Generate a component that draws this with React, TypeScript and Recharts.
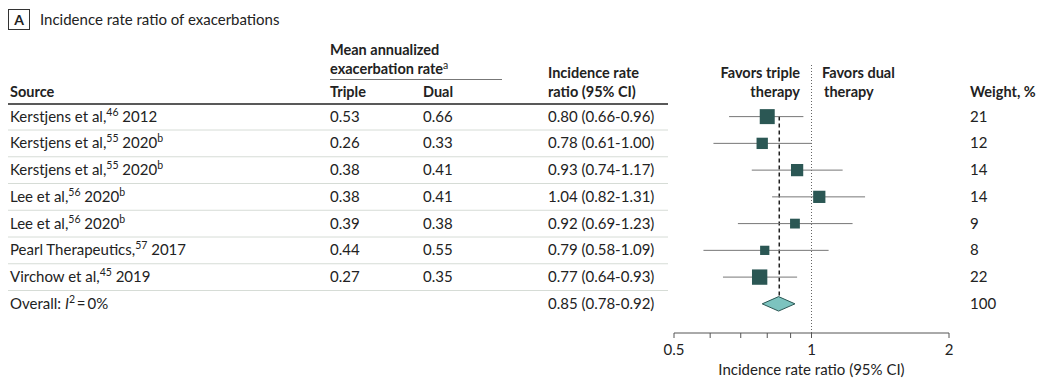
import React from "react";
import {
  ScatterChart,
  Scatter,
  XAxis,
  YAxis,
  ErrorBar,
  ReferenceLine,
  ReferenceArea,
} from "recharts";

// study rows, top to bottom
const studyNames = [
  "Kerstjens et al,",
  "Kerstjens et al,",
  "Kerstjens et al,",
  "Lee et al,",
  "Lee et al,",
  "Pearl Therapeutics,",
  "Virchow et al,",
];
const refNums = ["46", "55", "55", "56", "56", "57", "45"];
const years = ["2012", "2020", "2020", "2020", "2020", "2017", "2019"];
const notes = ["", "b", "b", "b", "b", "", ""];
const tripleRates = ["0.53", "0.26", "0.38", "0.38", "0.39", "0.44", "0.27"];
const dualRates = ["0.66", "0.33", "0.41", "0.41", "0.38", "0.55", "0.35"];
const irr = [0.8, 0.78, 0.93, 1.04, 0.92, 0.79, 0.77];
const ciLow = [0.66, 0.61, 0.74, 0.82, 0.69, 0.58, 0.64];
const ciHigh = [0.96, 1.0, 1.17, 1.31, 1.23, 1.09, 0.93];
const weights = [21, 12, 14, 14, 9, 8, 22];

// pooled estimate
const overallIrr = 0.85;
const overallLow = 0.78;
const overallHigh = 0.92;
const overallWeight = 100;

const xTicks = [0.5, 0.6, 0.7, 0.8, 0.9, 1, 2];
const xTickLabels = [0.5, 1, 2];

const OVERALL_ROW = studyNames.length;
const rowIdx = [...studyNames.map((_, i) => i), OVERALL_ROW];

const FONT = "Lato, 'Noto Sans', sans-serif";
const TEXT = "#222";
const SQUARE = "#2b5754";
const DIAMOND = "#7cc3bf";
const ROW_HALF = 13.4;
const FS = 15;
const HEAD_FS = 14.5;

const points = irr.map((v, i) => ({
  x: v,
  y: i,
  err: [v - ciLow[i], ciHigh[i] - v],
  w: weights[i],
}));

const fmt = (v: number) => v.toFixed(2);
const ciText = (v: number, lo: number, hi: number) =>
  `${fmt(v)} (${fmt(lo)}-${fmt(hi)})`;

const Sup = ({ children }: { children: React.ReactNode }) => (
  <tspan fontSize={10.5} dy={-6}>
    {children}
  </tspan>
);

// each y tick draws a whole table row on the left and the weight on the right
const RowTick = (props: any) => {
  const { y, payload } = props;
  const i = payload.value as number;
  const base = y + 5;
  const isOverall = i === OVERALL_ROW;
  return (
    <g fontFamily={FONT} fontSize={FS} fill={TEXT}>
      {isOverall ? (
        <text x={10} y={base}>
          Overall:{" "}
          <tspan fontStyle="italic">I</tspan>
          <Sup>2</Sup>
          <tspan dy={6}>{"\u2009=\u20090%"}</tspan>
        </text>
      ) : (
        <text x={10} y={base}>
          {studyNames[i]}
          <Sup>{refNums[i]}</Sup>
          <tspan dy={6}> {years[i]}</tspan>
          {notes[i] ? <Sup>{notes[i]}</Sup> : null}
        </text>
      )}
      {!isOverall && (
        <>
          <text x={330} y={base}>
            {tripleRates[i]}
          </text>
          <text x={423} y={base}>
            {dualRates[i]}
          </text>
        </>
      )}
      <text x={548} y={base}>
        {isOverall
          ? ciText(overallIrr, overallLow, overallHigh)
          : ciText(irr[i], ciLow[i], ciHigh[i])}
      </text>
      <text x={970} y={base}>
        {isOverall ? overallWeight : weights[i]}
      </text>
      {!isOverall && (
        <line
          x1={8}
          x2={668}
          y1={y + ROW_HALF}
          y2={y + ROW_HALF}
          stroke="#d6dcd6"
          strokeWidth={1}
        />
      )}
    </g>
  );
};

const WeightedSquare = (props: any) => {
  const { cx, cy, payload } = props;
  const s = 3.27 * Math.sqrt(payload.w);
  return (
    <rect
      x={cx - s / 2}
      y={cy - s / 2}
      width={s}
      height={s}
      fill={SQUARE}
    />
  );
};

const Diamond = (props: any) => {
  const { x, y, width, height } = props;
  const mx = x + width / 2;
  const my = y + height / 2;
  return (
    <polygon
      points={`${x},${my} ${mx},${y} ${x + width},${my} ${mx},${y + height}`}
      fill={DIAMOND}
      stroke={SQUARE}
      strokeWidth={1}
    />
  );
};

const Header = () => (
  <svg
    width={1046}
    height={391}
    style={{ position: "absolute", left: 0, top: 0, pointerEvents: "none" }}
    fontFamily={FONT}
    fill={TEXT}
  >
    <rect x={8.5} y={9.5} width={21} height={20} fill="none" stroke="#333" />
    <text x={19} y={25} fontSize={14} fontWeight={700} textAnchor="middle">
      A
    </text>
    <text x={40} y={25} fontSize={15}>
      Incidence rate ratio of exacerbations
    </text>
    <g fontSize={HEAD_FS} fontWeight={700}>
      <text x={330} y={55}>
        Mean annualized
      </text>
      <text x={330} y={74}>
        exacerbation rate
        <tspan fontSize={10.5} fontWeight={400} dy={-5}>
          a
        </tspan>
      </text>
      <text x={10} y={97}>
        Source
      </text>
      <text x={330} y={97}>
        Triple
      </text>
      <text x={423} y={97}>
        Dual
      </text>
      <text x={548} y={78}>
        Incidence rate
      </text>
      <text x={548} y={97}>
        ratio (95% CI)
      </text>
      <text x={800} y={78} textAnchor="end">
        Favors triple
      </text>
      <text x={800} y={97} textAnchor="end">
        therapy
      </text>
      <text x={822} y={78}>
        Favors dual
      </text>
      <text x={824} y={97}>
        therapy
      </text>
      <text x={970} y={97}>
        Weight, %
      </text>
    </g>
    <line x1={330} x2={502} y1={79.5} y2={79.5} stroke="#777" />
    <line x1={8} x2={668} y1={104} y2={104} stroke="#222" strokeWidth={1.5} />
  </svg>
);

const App = () => {
  return (
    <div
      style={{
        position: "absolute",
        left: 0,
        top: 0,
        width: 1046,
        height: 391,
        background: "#fff",
        fontFamily: FONT,
      }}
    >
      <ScatterChart
        width={1046}
        height={391}
        margin={{ top: 65, right: 97, bottom: 0, left: 673 }}
      >
        <XAxis
          dataKey="x"
          type="number"
          scale="log"
          domain={[0.5, 2]}
          ticks={xTicks}
          interval={0}
          allowDataOverflow
          height={58}
          tickSize={5}
          tickMargin={6}
          stroke="#555"
          tick={{ fill: TEXT, fontSize: FS, fontFamily: FONT }}
          tickFormatter={(v: number) =>
            xTickLabels.includes(v) ? String(v) : ""
          }
          label={{
            value: "Incidence rate ratio (95% CI)",
            position: "insideBottom",
            offset: 16,
            fill: TEXT,
            fontSize: FS,
            fontFamily: FONT,
          }}
        />
        <YAxis
          dataKey="y"
          type="number"
          reversed
          domain={[-1.93, 8.09]}
          ticks={rowIdx}
          interval={0}
          allowDataOverflow
          width={1}
          axisLine={false}
          tickLine={false}
          tick={<RowTick />}
        />
        <ReferenceLine
          x={1}
          stroke="#666"
          strokeWidth={1}
          strokeDasharray="1 2"
        />
        <ReferenceLine
          segment={[
            { x: overallIrr, y: 0 },
            { x: overallIrr, y: OVERALL_ROW - 0.3 },
          ]}
          stroke="#222"
          strokeWidth={1.5}
          strokeDasharray="4 3"
        />
        <Scatter
          data={points}
          isAnimationActive={false}
          shape={<WeightedSquare />}
        >
          <ErrorBar
            dataKey="err"
            direction="x"
            width={0}
            stroke="#777"
            strokeWidth={1}
            isAnimationActive={false}
          />
        </Scatter>
        <ReferenceArea
          x1={overallLow}
          x2={overallHigh}
          y1={OVERALL_ROW - 0.27}
          y2={OVERALL_ROW + 0.27}
          ifOverflow="visible"
          shape={<Diamond />}
        />
      </ScatterChart>
      <Header />
    </div>
  );
};

export default App;
